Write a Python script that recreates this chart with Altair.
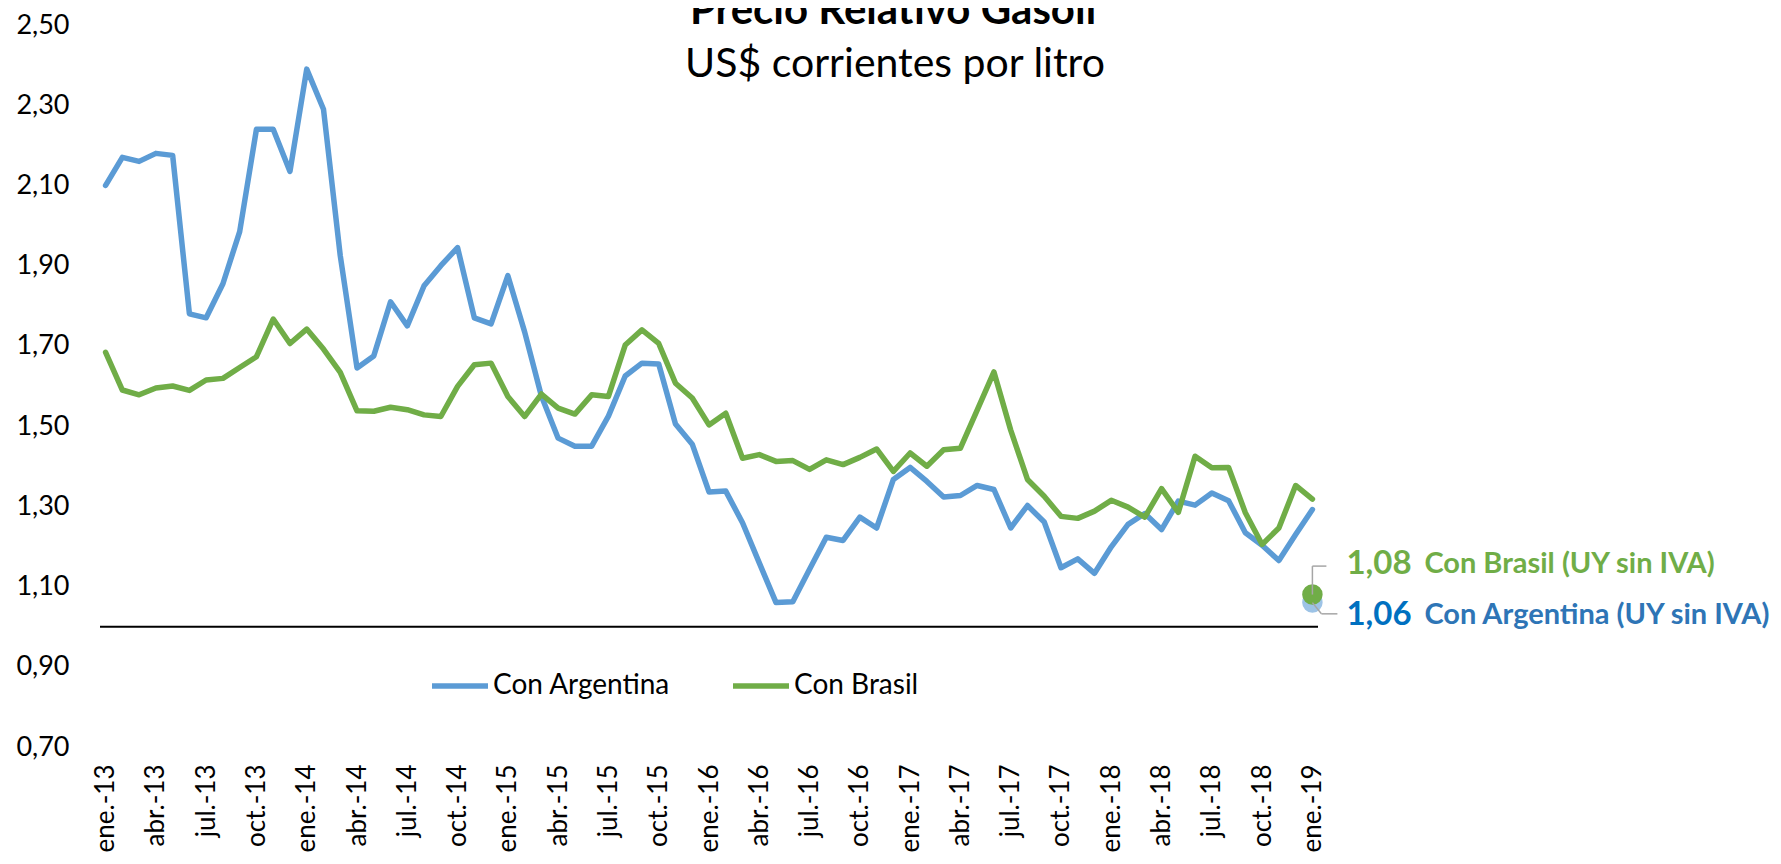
import altair as alt
import pandas as pd

# ---------------- data ----------------
meses = ["ene.", "feb.", "mar.", "abr.", "may.", "jun.", "jul.", "ago.", "sep.", "oct.", "nov.", "dic."]
anios = ["13", "14", "15", "16", "17", "18", "19"]
periodos = [f"{m}-{a}" for a in anios for m in meses][:73]

con_argentina = [
    2.100, 2.170, 2.160, 2.180, 2.175, 1.780, 1.770, 1.855, 1.985, 2.240, 2.240, 2.135,
    2.390, 2.290, 1.925, 1.645, 1.675, 1.810, 1.750, 1.850, 1.900, 1.945, 1.770, 1.755,
    1.875, 1.735, 1.575, 1.470, 1.450, 1.450, 1.525, 1.625, 1.657, 1.655, 1.505, 1.455,
    1.336, 1.338, 1.259, 1.159, 1.060, 1.062, 1.143, 1.223, 1.215, 1.273, 1.246, 1.367,
    1.397, 1.362, 1.323, 1.327, 1.352, 1.342, 1.246, 1.302, 1.261, 1.147, 1.169, 1.133,
    1.199, 1.255, 1.282, 1.242, 1.313, 1.303, 1.333, 1.314, 1.234, 1.203, 1.165, 1.230,
    1.292,
]
con_brasil = [
    1.684, 1.590, 1.578, 1.595, 1.600, 1.589, 1.615, 1.619, 1.646, 1.673, 1.767, 1.706,
    1.742, 1.692, 1.634, 1.538, 1.537, 1.547, 1.541, 1.528, 1.524, 1.599, 1.653, 1.657,
    1.574, 1.524, 1.580, 1.545, 1.530, 1.578, 1.574, 1.702, 1.740, 1.706, 1.607, 1.570,
    1.503, 1.532, 1.420, 1.429, 1.412, 1.414, 1.392, 1.416, 1.404, 1.422, 1.443, 1.387,
    1.433, 1.400, 1.441, 1.445, 1.540, 1.635, 1.490, 1.367, 1.325, 1.275, 1.270, 1.288,
    1.315, 1.298, 1.273, 1.344, 1.285, 1.425, 1.396, 1.397, 1.284, 1.205, 1.246, 1.352,
    1.318,
]

series_names = ["Con Argentina", "Con Brasil"]
series_colors = ["#5B9BD5", "#70AD47"]

x_tick_labels = periodos[::3]
y_ticks = [0.7, 0.9, 1.1, 1.3, 1.5, 1.7, 1.9, 2.1, 2.3, 2.5]
ref_line = [1.0]

titulo = "Precio Relativo Gasoil"
subtitulo = "US$ corrientes por litro"

# final-point annotations (UY sin IVA)
fin_periodo = "ene.-19"
fin_brasil = 1.08
fin_argentina = 1.06
lbl_brasil_val = "1,08"
lbl_brasil_txt = "Con Brasil (UY sin IVA)"
lbl_arg_val = "1,06"
lbl_arg_txt = "Con Argentina (UY sin IVA)"
leader_brasil_top = 1.151
leader_arg_end = 1.032

FONT = "Lato"

# ---------------- tables ----------------
df = pd.DataFrame({
    "periodo": periodos * 2,
    "serie": [series_names[0]] * len(periodos) + [series_names[1]] * len(periodos),
    "valor": con_argentina + con_brasil,
})
df_ref = pd.DataFrame({"valor": ref_line})
df_fb = pd.DataFrame({"periodo": [fin_periodo], "valor": [fin_brasil], "v2": [leader_brasil_top],
                      "num": [lbl_brasil_val], "txt": [lbl_brasil_txt]})
df_fa = pd.DataFrame({"periodo": [fin_periodo], "valor": [fin_argentina], "v2": [leader_arg_end],
                      "num": [lbl_arg_val], "txt": [lbl_arg_txt]})
df_title = pd.DataFrame({"t": [titulo], "s": [subtitulo]})

# ---------------- encodings ----------------
x_enc = alt.X(
    "periodo:N",
    sort=periodos,
    scale=alt.Scale(type="point", padding=0.334, domain=periodos),
    axis=alt.Axis(
        values=x_tick_labels, labelAngle=270, labelAlign="right", labelBaseline="middle",
        labelPadding=17, ticks=False, tickSize=0, domain=False, grid=False,
        labelFontSize=26, labelFont=FONT, labelColor="black", title=None, labelOverlap=False,
    ),
)
y_enc = alt.Y(
    "valor:Q",
    scale=alt.Scale(domain=[0.7, 2.5], nice=False, zero=False),
    axis=alt.Axis(
        values=y_ticks, labelExpr="replace(format(datum.value, '.2f'), '.', ',')",
        ticks=False, tickSize=0, domain=False, grid=False, labelPadding=31,
        labelFontSize=27, labelFont=FONT, labelColor="black", title=None,
    ),
)

lines = alt.Chart(df).mark_line(strokeWidth=5.5, strokeJoin="round", strokeCap="round").encode(
    x=x_enc,
    y=y_enc,
    color=alt.Color(
        "serie:N",
        scale=alt.Scale(domain=series_names, range=series_colors),
        legend=alt.Legend(
            orient="none", legendX=329, legendY=630, direction="horizontal", title=None,
            symbolType="stroke", symbolSize=3136, symbolStrokeWidth=5.5,
            labelFontSize=28, labelFont=FONT, labelColor="black", labelOffset=2,
            columnPadding=51, labelLimit=400,
        ),
    ),
)

rule = alt.Chart(df_ref).mark_rule(color="black", strokeWidth=2).encode(y="valor:Q")

pt_arg = alt.Chart(df_fa).mark_circle(size=420, color="#9DC3E6", opacity=1).encode(x="periodo:N", y="valor:Q")
pt_bra = alt.Chart(df_fb).mark_circle(size=420, color="#70AD47", opacity=1).encode(x="periodo:N", y="valor:Q")

lead_b1 = alt.Chart(df_fb).mark_rule(color="#A6A6A6", strokeWidth=1.5).encode(
    x="periodo:N", y="valor:Q", y2="v2:Q")
lead_b2 = alt.Chart(df_fb).mark_rule(color="#A6A6A6", strokeWidth=1.5, x2Offset=14).encode(
    x="periodo:N", x2="periodo:N", y="v2:Q")
lead_a1 = alt.Chart(df_fa).mark_rule(color="#A6A6A6", strokeWidth=1.5, x2Offset=9).encode(
    x="periodo:N", x2="periodo:N", y="valor:Q", y2="v2:Q")
lead_a2 = alt.Chart(df_fa).mark_rule(color="#A6A6A6", strokeWidth=1.5, xOffset=9, x2Offset=25).encode(
    x="periodo:N", x2="periodo:N", y="v2:Q")

num_b = alt.Chart(df_fb).mark_text(align="left", baseline="middle", dx=34, dy=-31, fontSize=33,
                                   fontWeight="bold", color="#70AD47", font=FONT).encode(
    x="periodo:N", y="valor:Q", text="num:N")
txt_b = alt.Chart(df_fb).mark_text(align="left", baseline="middle", dx=112, dy=-31, fontSize=29,
                                   fontWeight="bold", color="#70AD47", font=FONT).encode(
    x="periodo:N", y="valor:Q", text="txt:N")
num_a = alt.Chart(df_fa).mark_text(align="left", baseline="middle", dx=34, dy=12, fontSize=33,
                                   fontWeight="bold", color="#0070C0", font=FONT).encode(
    x="periodo:N", y="valor:Q", text="num:N")
txt_a = alt.Chart(df_fa).mark_text(align="left", baseline="middle", dx=112, dy=12, fontSize=29,
                                   fontWeight="bold", color="#2E75B6", font=FONT).encode(
    x="periodo:N", y="valor:Q", text="txt:N")

title_t = alt.Chart(df_title).mark_text(align="center", baseline="alphabetic", fontSize=42,
                                        fontWeight="bold", color="black", font=FONT).encode(
    x=alt.value(793), y=alt.value(-1), text="t:N")
title_s = alt.Chart(df_title).mark_text(align="center", baseline="alphabetic", fontSize=41,
                                        color="black", font=FONT).encode(
    x=alt.value(795), y=alt.value(52), text="s:N")

chart = alt.layer(
    rule, lines, pt_arg, pt_bra, lead_b1, lead_b2, lead_a1, lead_a2,
    num_b, txt_b, num_a, txt_a, title_t, title_s,
).properties(
    width=1218,
    height=722,
    padding={"left": 92, "top": 17, "right": 455, "bottom": 105},
    autosize=alt.AutoSizeParams(type="none"),
    background="white",
).configure_view(strokeWidth=0)

chart.save("out.html", embed_options={"renderer": "svg", "actions": False})
